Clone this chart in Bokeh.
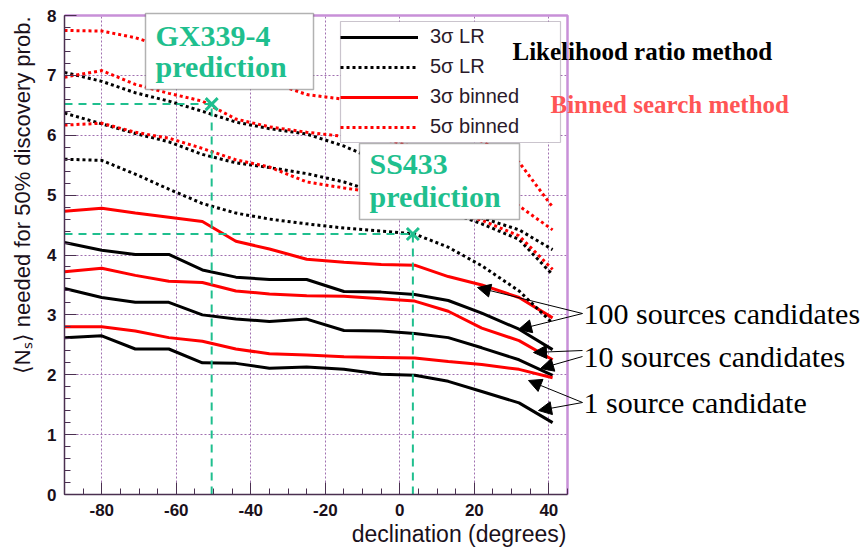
import math
from bokeh.plotting import figure
from bokeh.models import (Range1d, FixedTicker, Legend, LegendItem, Label, Arrow,
                          NormalHead, BoxAnnotation)
from bokeh.embed import file_html
from bokeh.resources import INLINE

# ---------------- data ----------------
declination = [-90, -80, -71, -62, -53, -44, -35, -25, -15, -5, 4, 13, 22, 32, 41]

# 3 sigma, likelihood ratio (solid black)
lr3_1src   = [2.62, 2.65, 2.43, 2.43, 2.20, 2.19, 2.11, 2.13, 2.09, 2.01, 1.99, 1.89, 1.72, 1.53, 1.20]
lr3_10src  = [3.44, 3.29, 3.21, 3.21, 3.00, 2.93, 2.89, 2.93, 2.74, 2.73, 2.69, 2.62, 2.45, 2.25, 1.99]
lr3_100src = [4.21, 4.08, 4.01, 4.01, 3.75, 3.63, 3.59, 3.59, 3.39, 3.38, 3.34, 3.24, 3.03, 2.76, 2.42]
# 3 sigma, binned (solid red)
bin3_1src   = [2.80, 2.80, 2.73, 2.62, 2.56, 2.43, 2.35, 2.33, 2.30, 2.29, 2.28, 2.22, 2.17, 2.09, 1.95]
bin3_10src  = [3.72, 3.78, 3.66, 3.56, 3.54, 3.40, 3.35, 3.32, 3.31, 3.27, 3.23, 3.06, 2.78, 2.57, 2.25]
bin3_100src = [4.73, 4.78, 4.70, 4.63, 4.56, 4.23, 4.10, 3.93, 3.88, 3.84, 3.83, 3.64, 3.50, 3.29, 2.95]
# 5 sigma, likelihood ratio (dotted black)
lr5_1src   = [5.60, 5.58, 5.35, 5.10, 4.86, 4.70, 4.60, 4.52, 4.45, 4.40, 4.35, 4.13, 3.82, 3.40, 2.86]
lr5_10src  = [6.37, 6.19, 6.03, 5.89, 5.68, 5.54, 5.46, 5.36, 5.22, 5.02, 4.90, 4.72, 4.52, 4.26, 3.67]
lr5_100src = [7.05, 6.90, 6.71, 6.57, 6.40, 6.22, 6.11, 6.02, 5.82, 5.55, 5.30, 5.00, 4.62, 4.42, 4.09]
# 5 sigma, binned (dotted red)
bin5_1src   = [6.17, 6.20, 6.05, 5.95, 5.78, 5.59, 5.47, 5.22, 5.12, 5.03, 4.90, 4.75, 4.58, 4.32, 3.76]
bin5_10src  = [6.97, 7.08, 6.85, 6.70, 6.57, 6.27, 6.14, 6.05, 5.98, 5.95, 5.80, 5.55, 5.25, 4.82, 4.42]
bin5_100src = [7.75, 7.74, 7.63, 7.45, 7.25, 7.05, 6.90, 6.68, 6.60, 6.45, 6.30, 6.10, 5.90, 5.55, 4.80]

# source predictions
source_names = ["GX339-4", "SS433"]
source_dec = [-50.5, 3.5]
source_ns = [6.52, 4.35]

x_tick_values = [-80, -60, -40, -20, 0, 20, 40]
x_tick_labels = ["-80", "-60", "-40", "-20", "0", "20", "40"]
y_tick_values = [0, 1, 2, 3, 4, 5, 6, 7, 8]

legend_labels = ["3σ LR", "5σ LR", "3σ binned", "5σ binned"]

# ---------------- layout constants ----------------
X_MIN, X_MAX = -90, 45
Y_MIN, Y_MAX = 0, 8
W, H = 862, 548
PXDEG = 503.0 / 135.0          # px per degree
PYU = 479.0 / 8.0              # px per unit

def sx(px):  # page px -> data x
    return X_MIN + (px - 64) / PXDEG

def sy(py):  # page py -> data y
    return (494 - py) / PYU

TEAL = "#1fbf8e"
RED = "#ff0000"
BLACK = "#000000"
AXC = "#4a3050"
TXT = "#1a101a"

p = figure(width=W, height=H, output_backend="svg", toolbar_location=None,
           x_range=Range1d(sx(0), sx(W)), y_range=Range1d(sy(H), sy(0)),
           min_border_left=0, min_border_right=0, min_border_top=0,
           min_border_bottom=0)
p.outline_line_color = None
p.background_fill_color = "white"
p.border_fill_color = "white"

# axes, fixed at the plot box edges
p.xaxis.fixed_location = Y_MIN
p.yaxis.fixed_location = X_MIN
p.xaxis.ticker = FixedTicker(ticks=x_tick_values, minor_ticks=list(range(-90, 46, 5)))
p.xaxis.major_label_overrides = {v: s for v, s in zip(x_tick_values, x_tick_labels)}
p.xaxis.bounds = (X_MIN, X_MAX)
p.yaxis.ticker = FixedTicker(ticks=y_tick_values, minor_ticks=[i * 0.2 for i in range(41)])
p.yaxis.bounds = (Y_MIN, Y_MAX)
for ax in (p.xaxis, p.yaxis):
    ax.axis_line_color = AXC
    ax.axis_line_width = 1.5
    ax.major_tick_line_color = AXC
    ax.minor_tick_line_color = AXC
    ax.major_tick_in = 12
    ax.major_tick_out = 0
    ax.minor_tick_in = 6
    ax.minor_tick_out = 0
    ax.major_label_text_font = "Liberation Sans"
    ax.major_label_text_font_style = "bold"
    ax.major_label_text_font_size = "17px"
    ax.major_label_text_color = TXT
p.xaxis.major_label_standoff = 9
p.yaxis.major_label_standoff = 8

# grid
p.xgrid.cross_bounds = (Y_MIN, Y_MAX)
p.ygrid.cross_bounds = (X_MIN, X_MAX)
p.xgrid.bounds = (X_MIN, X_MAX)
p.ygrid.bounds = (Y_MIN, Y_MAX)
for g in (p.xgrid, p.ygrid):
    g.grid_line_color = "#a070b0"
    g.grid_line_dash = "2 2"
    g.grid_line_width = 1

# plot box (top / right border)
p.line([X_MIN, X_MAX, X_MAX], [Y_MAX, Y_MAX, Y_MIN], line_color="#c890d8", line_width=2.5)

# curves
series = [
    (lr3_1src, BLACK, "solid"), (lr3_10src, BLACK, "solid"), (lr3_100src, BLACK, "solid"),
    (bin3_1src, RED, "solid"), (bin3_10src, RED, "solid"), (bin3_100src, RED, "solid"),
    (lr5_1src, BLACK, "3 3"), (lr5_10src, BLACK, "3 3"), (lr5_100src, BLACK, "3 3"),
    (bin5_1src, RED, "3 3"), (bin5_10src, RED, "3 3"), (bin5_100src, RED, "3 3"),
]
rends = []
for vals, col, dash in series:
    rends.append(p.line(declination, vals, line_color=col, line_width=3, line_dash=dash))

# prediction guides
for dec, ns in zip(source_dec, source_ns):
    p.line([X_MIN, dec], [ns, ns], line_color=TEAL, line_width=2, line_dash="8 6")
    p.line([dec, dec], [Y_MIN, ns], line_color=TEAL, line_width=2, line_dash="8 6")
p.scatter(source_dec, source_ns, marker="x", size=17, line_width=3, line_color=TEAL)

# prediction boxes and the legend frame
for l, r, t, b, lc, lw in [(145, 313, 13, 89, "black", 1.5),
                           (359, 519, 143, 219, "black", 1.5),
                           (340, 560, 21, 142, "#503a5a", 1.2)]:
    p.add_layout(BoxAnnotation(left=sx(l), right=sx(r), top=sy(t), bottom=sy(b),
                               fill_color="white", fill_alpha=1.0,
                               line_color=lc, line_width=lw))

# legend (drawn inside the white frame above)
legend = Legend(items=[LegendItem(label=legend_labels[0], renderers=[rends[0]]),
                       LegendItem(label=legend_labels[1], renderers=[rends[6]]),
                       LegendItem(label=legend_labels[2], renderers=[rends[3]]),
                       LegendItem(label=legend_labels[3], renderers=[rends[9]])],
                location=(340, H - 138), orientation="vertical",
                label_text_font="Liberation Sans", label_text_font_size="20px",
                label_text_color="#2a1a2a",
                glyph_width=78, glyph_height=22, label_height=22, label_width=118,
                label_standoff=12, spacing=7, padding=6, margin=0,
                border_line_color=None,
                background_fill_color="white", background_fill_alpha=0.0)
p.add_layout(legend)

def lab(px, py, text, size, color, style="normal", font="Liberation Serif",
        align="left", angle=0.0):
    # (px, py): wanted start / baseline of the text in page pixels
    fs = float(size.replace("px", ""))
    shift = 0.33 * fs
    if angle:
        x, y = sx(px - shift), sy(py)
    else:
        x, y = sx(px), sy(py - shift)
    p.add_layout(Label(x=x, y=y, text=text, text_font=font,
                       text_font_size=size, text_font_style=style, text_color=color,
                       text_align=align, text_baseline="alphabetic", angle=angle,
                       level="overlay"))

lab(155, 45, "GX339-4", "30px", TEAL, "bold")
lab(155, 76, "prediction", "30px", TEAL, "bold")
lab(369, 173, "SS433", "30px", TEAL, "bold")
lab(369, 206, "prediction", "30px", TEAL, "bold")
lab(512, 59, "Likelihood ratio method", "25px", BLACK, "bold")
lab(550, 112, "Binned search method", "25px", "#ff5555", "bold")
lab(583, 323, "100 sources candidates", "30px", BLACK)
lab(583, 366, "10 sources candidates", "30px", BLACK)
lab(583, 412, "1 source candidate", "30px", BLACK)
# axis titles
lab(566, 541, "declination (degrees)", "23px", TXT, font="Liberation Sans", align="right")
lab(29, 16, "⟨Nₛ⟩ needed for 50% discovery prob.", "22px", TXT, font="Liberation Sans",
    align="right", angle=math.pi / 2)

# arrows to the curves
for (x0, y0), (x1, y1) in [((582, 313), (477, 287)), ((582, 313), (518, 329)),
                           ((582, 350), (533, 352)), ((582, 356), (540, 368)),
                           ((582, 402), (528, 380)), ((582, 402), (538, 410))]:
    p.add_layout(Arrow(x_start=sx(x0), y_start=sy(y0), x_end=sx(x1), y_end=sy(y1),
                       line_color="black", line_width=1,
                       end=NormalHead(size=13, fill_color="black", line_color="black")))

open("out.html", "w").write(file_html(p, INLINE))
